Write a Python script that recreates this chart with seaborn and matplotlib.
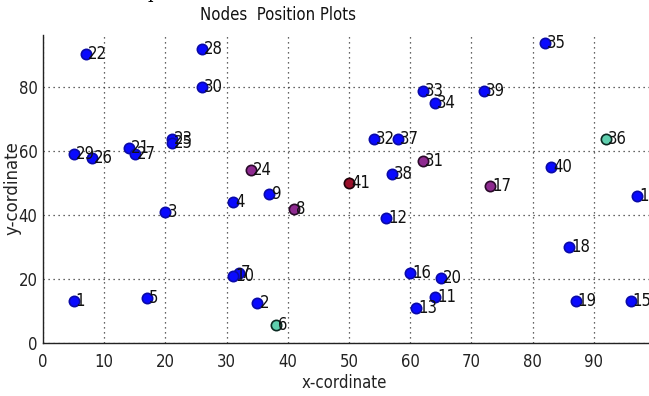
import matplotlib
matplotlib.use("Agg")
import matplotlib.pyplot as plt
import seaborn as sns
import pandas as pd

# Node coordinates (x, y) and their type
node_id = list(range(1, 42))
node_x = [5, 35, 20, 31, 17, 38, 32, 41, 37, 31,
          64, 56, 61, 97, 96, 60, 73, 86, 87, 65,
          14, 7, 21, 34, 21, 8, 15, 26, 5, 26,
          62, 54, 62, 64, 82, 92, 58, 57, 72, 83, 50]
node_y = [13, 12.5, 41, 44, 14, 5.5, 22, 42, 46.5, 21,
          14.3, 39, 11, 46, 13, 22, 49, 30, 13, 20.5,
          61, 90.5, 64, 54, 62.5, 58, 59, 92, 59, 80,
          57, 64, 79, 75, 94, 64, 64, 53, 79, 55, 50]
node_kind = ["normal"] * 41
for i in (6, 36):
    node_kind[i - 1] = "anchor"
for i in (8, 17, 24, 31):
    node_kind[i - 1] = "relay"
node_kind[41 - 1] = "sink"

x_ticks = [0, 10, 20, 30, 40, 50, 60, 70, 80, 90]
y_ticks = [0, 20, 40, 60, 80]

df = pd.DataFrame({"id": node_id, "x": node_x, "y": node_y, "kind": node_kind})

sns.set_style("white")
plt.rcParams["font.family"] = ["DejaVu Sans"]
plt.rcParams["font.stretch"] = "condensed"

W, H = 649, 396
fig = plt.figure(figsize=(W / 100, H / 100), dpi=100)
ax_l, ax_r, ax_b, ax_t = 43, 649, 343, 35
ax = fig.add_axes([ax_l / W, 1 - ax_b / H, (ax_r - ax_l) / W, (ax_b - ax_t) / H])

fills = {"normal": "#0a0aff", "anchor": "#5fcfae", "relay": "#8e2a90", "sink": "#9a0f2a"}
edges = {"normal": "#0a0aa8", "anchor": "#0b2a22", "relay": "#2a0a2a", "sink": "#200008"}

for kind in ["normal", "anchor", "relay", "sink"]:
    sub = df[df["kind"] == kind]
    sns.scatterplot(data=sub, x="x", y="y", ax=ax, s=55, color=fills[kind],
                    edgecolor=edges[kind], linewidth=1.2, zorder=3, legend=False)

for nid, xv, yv in zip(node_id, node_x, node_y):
    ax.text(xv + 0.35, yv, str(nid), fontsize=12, va="center", ha="left",
            color="#111111", zorder=4, clip_on=True)

ax.set_xlim(0, 99.0)
ax.set_ylim(0, 96.4)
ax.set_xticks(x_ticks)
ax.set_yticks(y_ticks)
ax.tick_params(axis="both", direction="in", length=4, width=0.8, labelsize=12,
               colors="#222222")
ax.tick_params(axis="x", pad=7)
ax.tick_params(axis="y", pad=4)
ax.grid(True, color="#333333", linestyle=(0, (1, 3)), linewidth=0.9)
for side in ("top", "right"):
    ax.spines[side].set_visible(False)
for side in ("left", "bottom"):
    ax.spines[side].set_color("#222222")
    ax.spines[side].set_linewidth(1.0)
ax.set_xlabel("")
ax.set_ylabel("")

fig.text(278 / W, 1 - 15 / H, "Nodes  Position Plots", ha="center", va="center",
         fontsize=12, color="#111111")
fig.text(344 / W, 1 - 383 / H, "x-cordinate", ha="center", va="center",
         fontsize=12, color="#222222")
fig.text(12 / W, 1 - 188 / H, "y-cordinate", ha="center", va="center",
         rotation=90, fontsize=12, color="#222222", stretch="normal")
fig.text(153 / W, 1 + 1.5 / H, "p", ha="center", va="baseline", fontsize=14,
         family="serif", color="black")

fig.savefig("out.png", dpi=100)
